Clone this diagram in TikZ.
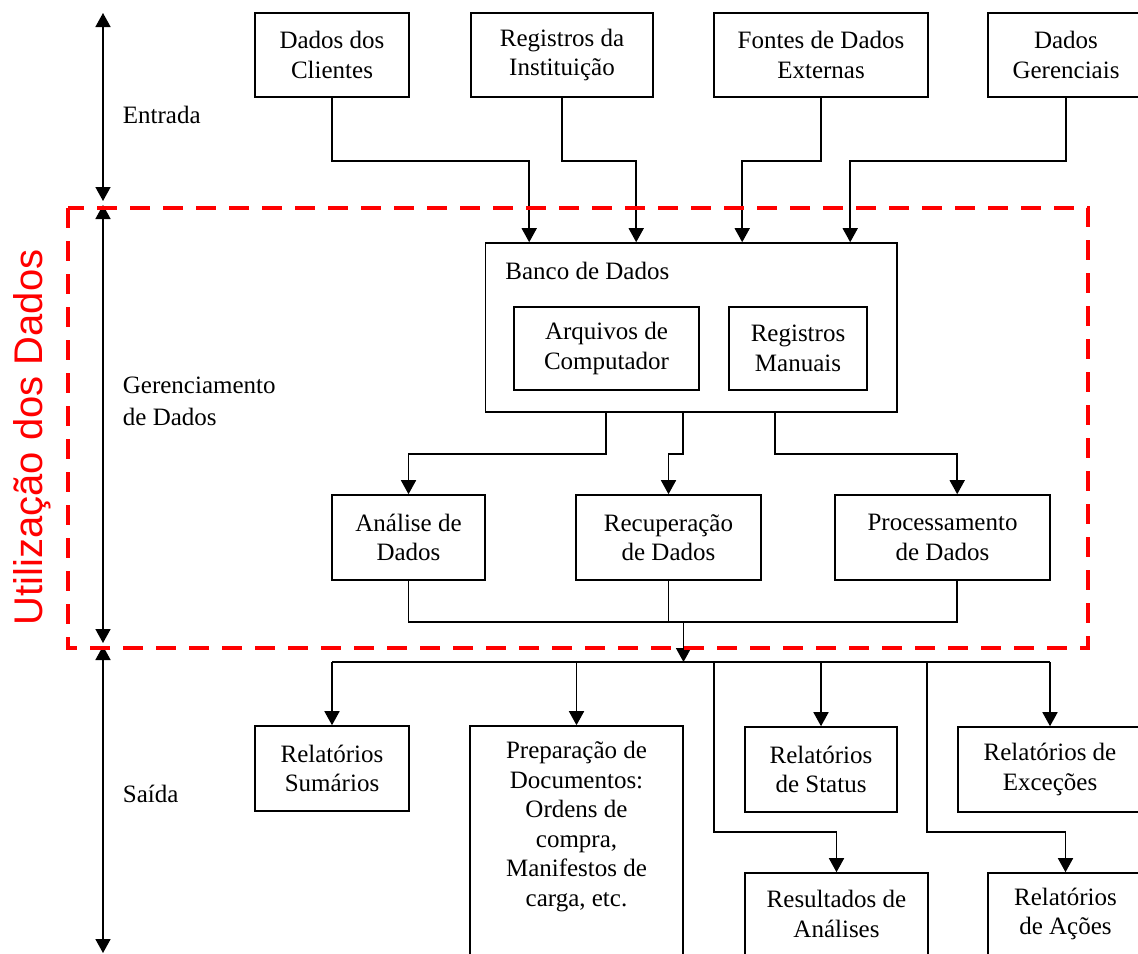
\documentclass[tikz,border=0pt]{standalone}
\usepackage{fontspec}
\setmainfont{Liberation Serif}
\newfontfamily\zonefont{Liberation Sans}
\usetikzlibrary{arrows.meta,calc}
\newcommand\diagfont{\fontsize{12.5}{14.75}\selectfont}
% box from corner (x1,y1) to (x2,y2), in picture units
\newcommand\placebox[6]{%
  \node[box, minimum width={(#4-#2)*0.5pt}, minimum height={(#5-#3)*0.5pt}]
    (#1) at ({(#2+#4)/2},{(#3+#5)/2}) {#6};}
\begin{document}
\begin{tikzpicture}[x=0.5pt,y=-0.5pt,
  box/.style={draw, line width=0.8pt, inner sep=0pt, align=center, font=\diagfont},
  lbl/.style={inner sep=0pt, font=\diagfont, align=left},
  wire/.style={line width=0.8pt},
  arr/.style={wire, -{Triangle[length=7pt,width=7.5pt]}},
  darr/.style={wire, {Triangle[length=7pt,width=7.5pt]}-{Triangle[length=7pt,width=7.5pt]}},
  zone/.style={draw=red, line width=2pt, dash pattern=on 10pt off 6.5pt},
]
\useasboundingbox (0,0) rectangle (1138,953);
\clip (0,0) rectangle (1138,953);

% ---- input sources
\placebox{cli}{255}{13}{409}{97}{Dados dos\\Clientes}
\placebox{reg}{471}{13}{653}{97}{Registros da\\Instituição}
\placebox{fon}{714}{13}{928}{97}{Fontes de Dados\\Externas}
\placebox{ger}{988}{13}{1144}{97}{Dados\\Gerenciais}

% ---- database
\placebox{db}{485.5}{243}{897}{412}{}
\node[lbl, anchor=base west] (dbt) at (505,279) {Banco de Dados};
\placebox{arq}{514}{307}{699}{390}{Arquivos de\\Computador}
\placebox{man}{729}{307}{867}{390}{Registros\\Manuais}

% ---- data management
\placebox{ana}{332}{495}{485}{580}{Análise de\\Dados}
\placebox{rec}{576}{495}{761}{580}{Recuperação\\de Dados}
\placebox{pro}{835}{495}{1050}{580}{Processamento\\de Dados}

% ---- outputs
\placebox{sum}{255}{726}{409}{811}{Relatórios\\Sumários}
\placebox{prep}{470}{726}{683}{990}{}
\node[lbl, align=center] (prept) at (576.5,826.5)
  {Preparação de\\Documentos:\\Ordens de\\compra,\\Manifestos de\\carga, etc.};
\placebox{sta}{745}{727}{897}{812}{Relatórios\\de Status}
\placebox{exc}{958}{727}{1142}{812}{Relatórios de\\Exceções}
\placebox{res}{745}{873}{928}{990}{}
\node[lbl, align=center] (rest) at (836.5,914) {Resultados de\\Análises};
\placebox{aco}{988}{873}{1143}{990}{}
\node[lbl, align=center] (acot) at (1065.5,914) {Relatórios\\de Ações};

% ---- inputs into the database
\draw[arr] (cli.south) -- ++(0,63) -| ($(db.north west)+(44.5,0)$);
\draw[arr] (reg.south) -- ++(0,63) -| ($(db.north west)+(151.5,0)$);
\draw[arr] (fon.south) -- ++(0,63) -| ($(db.north west)+(257.5,0)$);
\draw[arr] (ger.south) -- ++(0,63) -| ($(db.north west)+(365.5,0)$);

% ---- database to processing
\draw[arr] ($(db.south west)+(121.5,0)$) -- ++(0,41) -| (ana.north);
\draw[arr] ($(db.south west)+(198,0)$) -- ++(0,41) -| (rec.north);
\draw[arr] ($(db.south west)+(290.5,0)$) -- ++(0,41) -| ($(pro.north west)+(123,0)$);

% ---- processing merged into the output bus
\coordinate (mg) at (683.5,621);
\coordinate (busL) at (332,662);
\coordinate (busR) at (1050,662);
\coordinate (tapR) at (714,662);
\coordinate (tapA) at (927,662);
\draw[wire] (ana.south) -- ++(0,41) -| ($(pro.south west)+(123,0)$);
\draw[wire] (rec.south) -- (rec.south |- mg);
\draw[arr] (mg) -- (mg |- busL);
\draw[wire] (busL) -- (busR);
\draw[arr] (busL) -- (sum.north);
\draw[arr] (prep.north |- busL) -- (prep.north);
\draw[arr] (sta.north |- busL) -- (sta.north);
\draw[arr] (busR) -- (exc.north);
\draw[arr] (tapR) -- ++(0,170) -| (res.north);
\draw[arr] (tapA) -- ++(0,170) -| (aco.north);

% ---- stage axis on the left
\coordinate (a1) at (103,13);
\coordinate (a2) at (103,201);
\coordinate (a3) at (103,205);
\coordinate (a4) at (103,643);
\coordinate (a5) at (103,646);
\coordinate (a6) at (103,953);
\draw[darr] (a1) -- (a2);
\draw[darr] (a3) -- (a4);
\draw[darr] (a5) -- (a6);
\node[lbl, anchor=base west] (entrada) at (122.5,123.5) {Entrada};
\node[lbl, anchor=west] (gerenc) at (122.5,401) {Gerenciamento\\[1.2pt]de Dados};
\node[lbl, anchor=base west] (saida) at (122.5,802.5) {Saída};

% ---- data usage zone
\draw[zone] (67.5,208) rectangle (1088,647.5);
\node[rotate=90, anchor=base, inner sep=0pt, text=red,
      font=\zonefont\fontsize{20}{24}\selectfont] (util) at (42,437.5)
  {Utilização dos Dados};
\end{tikzpicture}
\end{document}
